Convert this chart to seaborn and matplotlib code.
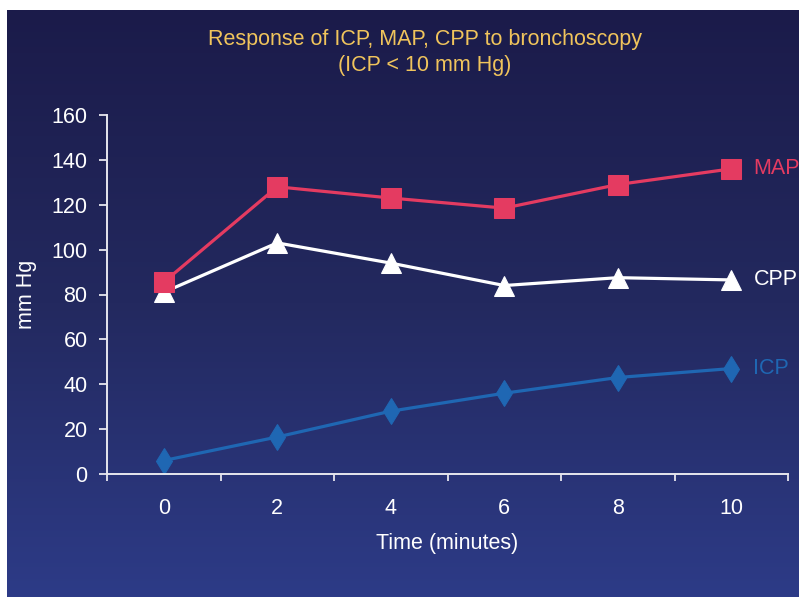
import numpy as np
import pandas as pd
import matplotlib
matplotlib.use("Agg")
import matplotlib.pyplot as plt
from matplotlib.colors import LinearSegmentedColormap
import seaborn as sns

# ---- data ----
time_labels = ["0", "2", "4", "6", "8", "10"]
map_values = [85.5, 128, 123, 118.5, 129, 136]
cpp_values = [81, 103, 94, 84, 87.5, 86.5]
icp_values = [6, 16.5, 28, 36, 43, 47]
y_ticks = [0, 20, 40, 60, 80, 100, 120, 140, 160]
title_lines = ["Response of ICP, MAP, CPP to bronchoscopy", "(ICP < 10 mm Hg)"]

sns.set_theme(style="white")
plt.rcParams["font.family"] = ["Liberation Sans", "DejaVu Sans"]

W, H = 799, 597
fig = plt.figure(figsize=(W / 100, H / 100), dpi=100, facecolor="white")

# gradient background panel
bg = fig.add_axes([7 / W, 0, (W - 7) / W, (H - 10) / H])
bg.set_axis_off()
cmap = LinearSegmentedColormap.from_list("bg", ["#1b1b4a", "#23295f", "#2d3b87"])
grad = np.linspace(0, 1, 256).reshape(-1, 1)
bg.imshow(grad, aspect="auto", cmap=cmap, extent=[0, 1, 0, 1], origin="upper")
bg.set_zorder(0)

ax = fig.add_axes([107 / W, (H - 474) / H, (788 - 107) / W, (474 - 115) / H])
ax.set_zorder(1)
ax.patch.set_alpha(0)

df = pd.DataFrame({
    "time": time_labels * 3,
    "value": map_values + cpp_values + icp_values,
    "series": ["MAP"] * 6 + ["CPP"] * 6 + ["ICP"] * 6,
})

styles = {
    "MAP": dict(color="#e43b61", marker="s", markersize=15),
    "CPP": dict(color="#ffffff", marker="^", markersize=14),
    "ICP": dict(color="#1f67b3", marker="d", markersize=13),
}

FS = 15.5

for name in ["ICP", "CPP", "MAP"]:
    sub = df[df["series"] == name]
    st = styles[name]
    sns.lineplot(data=sub, x="time", y="value", ax=ax, color=st["color"],
                 marker=st["marker"], markersize=st["markersize"],
                 markeredgecolor=st["color"], linewidth=2.3, sort=False,
                 legend=False)
    last = sub["value"].iloc[-1]
    ax.annotate(name, (len(time_labels) - 1, last), xytext=(16, 0),
                textcoords="offset points", va="center", ha="left",
                color=st["color"], fontsize=FS, annotation_clip=False)

ax.set_xlim(-0.5, len(time_labels) - 0.5)
ax.set_ylim(0, 160)
ax.set_yticks(y_ticks)
ax.set_xticks(range(len(time_labels)))
ax.set_xticklabels(time_labels)
ax.set_xticks(np.arange(-0.5, len(time_labels)), minor=True)

axis_col = "#e6e6ee"
for s in ["top", "right"]:
    ax.spines[s].set_visible(False)
for s in ["left", "bottom"]:
    ax.spines[s].set_color(axis_col)
    ax.spines[s].set_linewidth(1.4)

ax.tick_params(axis="y", which="major", left=True, length=6, width=1.3,
               color=axis_col, labelcolor="white", labelsize=FS, pad=8,
               direction="out")
ax.tick_params(axis="x", which="major", bottom=True, length=0,
               labelcolor="white", labelsize=FS, pad=17)
ax.tick_params(axis="x", which="minor", bottom=True, length=5, width=1.3,
               color=axis_col, direction="out")

ax.set_xlabel("Time (minutes)", color="white", fontsize=FS, labelpad=10)
ax.set_ylabel("mm Hg", color="white", fontsize=FS, labelpad=10.5)
ax.grid(False)

fig.text(425 / W, 1 - 40 / H, title_lines[0], ha="center", va="center",
         color="#f0c45c", fontsize=FS)
fig.text(425 / W, 1 - 65 / H, title_lines[1], ha="center", va="center",
         color="#f0c45c", fontsize=FS)

fig.savefig("out.png", dpi=100, facecolor="white")
